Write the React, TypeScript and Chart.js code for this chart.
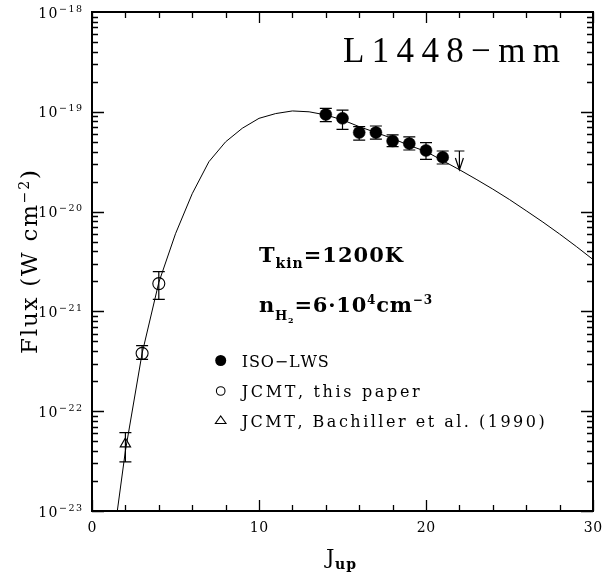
import React, { useEffect, useRef } from "react";
import { Chart, registerables } from "chart.js";

Chart.register(...registerables);

// ---------- data ----------
const modelJ = [1, 2, 3, 4, 5, 6, 7, 8, 9, 10, 11, 12, 13, 14, 15, 16, 17, 18, 19, 20, 21, 22, 23, 24, 25, 26, 27, 28, 29, 30];
const modelFlux = [
  2.3e-24, 4.0e-23, 3.8e-22, 1.95e-21, 6.0e-21, 1.51e-20, 3.16e-20, 5.0e-20, 6.84e-20, 8.6e-20,
  9.6e-20, 1.02e-19, 1.0e-19, 9.3e-20, 8.3e-20, 7.1e-20, 6.2e-20, 5.4e-20, 4.6e-20, 4.0e-20,
  3.24e-20, 2.63e-20, 2.11e-20, 1.68e-20, 1.32e-20, 1.02e-20, 7.85e-21, 5.96e-21, 4.47e-21, 3.31e-21,
];

const isoJ = [14, 15, 16, 17, 18, 19, 20, 21];
const isoFlux = [9.4e-20, 8.6e-20, 6.2e-20, 6.2e-20, 5.1e-20, 4.8e-20, 4.1e-20, 3.5e-20];
const isoLow = [7.96e-20, 6.68e-20, 5.2e-20, 5.33e-20, 4.47e-20, 4.14e-20, 3.34e-20, 3.0e-20];
const isoHigh = [1.08e-19, 1.04e-19, 7.1e-20, 7.21e-20, 5.86e-20, 5.6e-20, 4.9e-20, 4.05e-20];

const jcmtJ = [3, 4];
const jcmtFlux = [3.8e-22, 1.9e-21];
const jcmtLow = [3.31e-22, 1.32e-21];
const jcmtHigh = [4.53e-22, 2.5e-21];

const bachJ = [2];
const bachFlux = [4.7e-23];
const bachLow = [3.1e-23];
const bachHigh = [6.1e-23];

const limitJ = [22];
const limitFlux = [4.05e-20];

const xTickLabels = [0, 10, 20, 30];
const yDecades = [-23, -22, -21, -20, -19, -18];

const legendLabels = ["ISO\u2212LWS", "JCMT, this paper", "JCMT, Bachiller et al. (1990)"];

// ---------- helpers ----------
const W = 609;
const H = 577;
const SERIF = '"Liberation Serif"';
const DSERIF = '"DejaVu Serif"';

type Seg = { t: string; font: string; dy?: number };

function natural(ctx: CanvasRenderingContext2D, segs: Seg[]) {
  let w = 0;
  let n = 0;
  for (const s of segs) {
    ctx.font = s.font;
    for (const ch of s.t) {
      w += ctx.measureText(ch).width;
      n++;
    }
  }
  return { w, n };
}

function drawSegs(ctx: CanvasRenderingContext2D, segs: Seg[], x: number, y: number, spacing: number) {
  for (const s of segs) {
    ctx.font = s.font;
    for (const ch of s.t) {
      ctx.fillText(ch, x, y + (s.dy || 0));
      x += ctx.measureText(ch).width + spacing;
    }
  }
  return x;
}

function drawFit(ctx: CanvasRenderingContext2D, segs: Seg[], x: number, y: number, width: number) {
  const { w, n } = natural(ctx, segs);
  const sp = n > 1 ? (width - w) / (n - 1) : 0;
  drawSegs(ctx, segs, x, y, sp);
}

function widthWith(ctx: CanvasRenderingContext2D, segs: Seg[], spacing: number) {
  const { w, n } = natural(ctx, segs);
  return w + spacing * (n - 1);
}

const overlay = {
  id: "overlay",
  afterDatasetsDraw(chart: any) {
    const ctx: CanvasRenderingContext2D = chart.ctx;
    const xs = chart.scales.x;
    const ys = chart.scales.y;
    ctx.save();
    ctx.strokeStyle = "#000";
    ctx.lineWidth = 1.2;
    const bars = (J: number[], lo: number[], hi: number[]) => {
      J.forEach((j, i) => {
        const px = xs.getPixelForValue(j);
        const y1 = ys.getPixelForValue(lo[i]);
        const y2 = ys.getPixelForValue(hi[i]);
        ctx.beginPath();
        ctx.moveTo(px, y1);
        ctx.lineTo(px, y2);
        ctx.moveTo(px - 6, y1);
        ctx.lineTo(px + 6, y1);
        ctx.moveTo(px - 6, y2);
        ctx.lineTo(px + 6, y2);
        ctx.stroke();
      });
    };
    bars(isoJ, isoLow, isoHigh);
    bars(jcmtJ, jcmtLow, jcmtHigh);
    bars(bachJ, bachLow, bachHigh);
    // upper limit
    limitJ.forEach((j, i) => {
      const px = xs.getPixelForValue(j);
      const py = ys.getPixelForValue(limitFlux[i]);
      const tip = py + 19;
      ctx.beginPath();
      ctx.moveTo(px - 5, py);
      ctx.lineTo(px + 5, py);
      ctx.moveTo(px, py);
      ctx.lineTo(px, tip);
      ctx.moveTo(px - 4, tip - 12);
      ctx.lineTo(px, tip);
      ctx.lineTo(px + 4, tip - 12);
      ctx.stroke();
    });
    ctx.restore();
  },
  afterDraw(chart: any) {
    const ctx: CanvasRenderingContext2D = chart.ctx;
    const xs = chart.scales.x;
    const ys = chart.scales.y;
    const a = chart.chartArea;
    ctx.save();
    ctx.fillStyle = "#000";
    ctx.strokeStyle = "#000";
    ctx.textBaseline = "alphabetic";
    ctx.textAlign = "left";

    // frame
    ctx.lineWidth = 2;
    ctx.strokeRect(a.left, a.top, a.right - a.left, a.bottom - a.top);

    // x ticks
    ctx.lineWidth = 1.3;
    ctx.beginPath();
    for (let v = 0; v <= 30; v += 2) {
      const px = Math.round(xs.getPixelForValue(v)) + 0.5;
      const len = v % 10 === 0 ? 11 : 6;
      ctx.moveTo(px, a.bottom);
      ctx.lineTo(px, a.bottom - len);
      ctx.moveTo(px, a.top);
      ctx.lineTo(px, a.top + len);
    }
    // y ticks
    for (let d = -23; d < -18; d++) {
      for (let k = 1; k <= 9; k++) {
        const py = Math.round(ys.getPixelForValue(k * Math.pow(10, d))) + 0.5;
        const len = k === 1 ? 12 : 6;
        ctx.moveTo(a.left, py);
        ctx.lineTo(a.left + len, py);
        ctx.moveTo(a.right, py);
        ctx.lineTo(a.right - len, py);
      }
    }
    ctx.stroke();

    // x tick labels
    xTickLabels.forEach((v) => {
      const px = xs.getPixelForValue(v);
      const segs: Seg[] = [{ t: String(v), font: `14px ${DSERIF}` }];
      const w = widthWith(ctx, segs, 0.5);
      drawSegs(ctx, segs, px - w / 2, 532, 0.5);
    });

    // y tick labels
    yDecades.forEach((d) => {
      const py = ys.getPixelForValue(Math.pow(10, d));
      const segs: Seg[] = [
        { t: "10", font: `14px ${DSERIF}`, dy: 5.5 },
        { t: "\u2212" + String(-d), font: `9.5px ${DSERIF}`, dy: -0.5 },
      ];
      const w = widthWith(ctx, segs, 1.5);
      drawSegs(ctx, segs, 82 - w, py, 1.5);
    });

    // title
    drawFit(ctx, [{ t: "L1448\u2212mm", font: `35px ${SERIF}` }], 343, 62, 217);

    // T_kin
    drawFit(
      ctx,
      [
        { t: "T", font: `bold 21px ${DSERIF}` },
        { t: "kin", font: `bold 14px ${DSERIF}`, dy: 6 },
        { t: "=1200K", font: `bold 21px ${DSERIF}` },
      ],
      259,
      262,
      144
    );

    // n_H2
    drawFit(
      ctx,
      [
        { t: "n", font: `bold 21px ${DSERIF}` },
        { t: "H", font: `bold 13px ${DSERIF}`, dy: 7.5 },
        { t: "2", font: `bold 8px ${DSERIF}`, dy: 11 },
        { t: "=6\u00b710", font: `bold 21px ${DSERIF}` },
        { t: "4", font: `bold 12px ${DSERIF}`, dy: -8 },
        { t: "cm", font: `bold 21px ${DSERIF}` },
        { t: "\u22123", font: `bold 12px ${DSERIF}`, dy: -8 },
      ],
      259,
      312,
      173
    );

    // legend
    const legendY = [366.7, 397.3, 426.7];
    const legendW = [87, 178, 303];
    legendLabels.forEach((t, i) => {
      drawFit(ctx, [{ t, font: `16px ${DSERIF}` }], 241.7, legendY[i], legendW[i]);
    });
    ctx.lineWidth = 1.1;
    // filled circle
    ctx.beginPath();
    ctx.arc(220.7, 360.5, 5.5, 0, Math.PI * 2);
    ctx.fill();
    // open circle
    ctx.beginPath();
    ctx.arc(220.7, 391, 4.3, 0, Math.PI * 2);
    ctx.stroke();
    // open triangle
    ctx.beginPath();
    ctx.moveTo(215.4, 423.5);
    ctx.lineTo(226, 423.5);
    ctx.lineTo(220.7, 416);
    ctx.closePath();
    ctx.stroke();

    // y title (rotated)
    ctx.save();
    ctx.translate(37, 354);
    ctx.rotate(-Math.PI / 2);
    drawFit(
      ctx,
      [
        { t: "Flux (W cm", font: `23px ${DSERIF}` },
        { t: "\u22122", font: `14px ${DSERIF}`, dy: -8 },
        { t: ")", font: `23px ${DSERIF}` },
      ],
      0,
      0,
      184
    );
    ctx.restore();

    // x title
    ctx.font = `21px ${DSERIF}`;
    ctx.fillText("J", 326, 564);
    drawSegs(ctx, [{ t: "up", font: `bold 14px ${DSERIF}` }], 335, 569, 1);

    ctx.restore();
  },
};

export default function App() {
  const ref = useRef<HTMLCanvasElement>(null);
  useEffect(() => {
    document.body.style.margin = "0";
    const pts = (J: number[], F: number[]) => J.map((j, i) => ({ x: j, y: F[i] }));
    const chart = new Chart(ref.current as HTMLCanvasElement, {
      type: "scatter",
      data: {
        datasets: [
          {
            label: "model",
            data: pts(modelJ, modelFlux),
            showLine: true,
            borderColor: "#000",
            borderWidth: 1,
            pointRadius: 0,
            tension: 0,
          },
          {
            label: "ISO-LWS",
            data: pts(isoJ, isoFlux),
            pointStyle: "circle",
            pointRadius: 6,
            backgroundColor: "#000",
            borderColor: "#000",
            borderWidth: 0.5,
          },
          {
            label: "JCMT, this paper",
            data: pts(jcmtJ, jcmtFlux),
            pointStyle: "circle",
            pointRadius: 6,
            backgroundColor: "rgba(0,0,0,0)",
            borderColor: "#000",
            borderWidth: 1.1,
          },
          {
            label: "JCMT, Bachiller et al. (1990)",
            data: pts(bachJ, bachFlux),
            pointStyle: "triangle",
            pointRadius: 6,
            backgroundColor: "rgba(0,0,0,0)",
            borderColor: "#000",
            borderWidth: 1.1,
          },
        ],
      },
      options: {
        responsive: false,
        devicePixelRatio: 1,
        animation: false,
        events: [],
        layout: { padding: { top: 12, right: 16, left: 0, bottom: 0 } },
        plugins: { legend: { display: false }, tooltip: { enabled: false } },
        scales: {
          x: {
            type: "linear",
            min: 0,
            max: 30,
            grid: { display: false },
            border: { display: false },
            ticks: { display: false },
            afterFit: (s: any) => {
              s.height = 66;
            },
          },
          y: {
            type: "logarithmic",
            min: 1e-23,
            max: 1e-18,
            grid: { display: false },
            border: { display: false },
            ticks: { display: false },
            afterFit: (s: any) => {
              s.width = 92;
            },
          },
        },
      } as any,
      plugins: [overlay],
    });
    return () => chart.destroy();
  }, []);
  return (
    <div style={{ width: W, height: H }}>
      <canvas ref={ref} width={W} height={H} style={{ display: "block" }} />
    </div>
  );
}
